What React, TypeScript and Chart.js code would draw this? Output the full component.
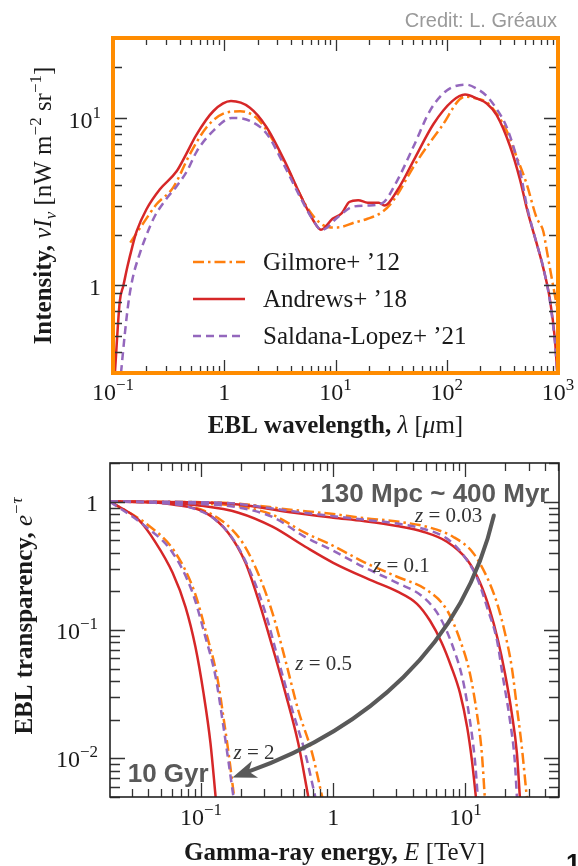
import { useEffect, useRef } from "react";
import { Chart, registerables } from "chart.js";
Chart.register(...registerables);

const SERIF = '"Liberation Serif", "Times New Roman", serif';
const SANS = '"Liberation Sans", Arial, sans-serif';

const ORANGE = "#ff7f0e";
const RED = "#d62728";
const PURPLE = "#9467bd";
const FRAME_ORANGE = "#ff8c00";
const TICK = "#333333";
const ANNOT = "#595959";

// ---------------- Top panel: EBL intensity vs wavelength ----------------
const wavelengthRange = [0.1, 1000];
const intensityRange = [0.3, 30];
const legendLabels = ["Gilmore+ \u201912", "Andrews+ \u201918", "Saldana-Lopez+ \u201921"];

const gilmoreEBL: [number, number][] = [
  [0.143, 1.8], [0.187, 2.35], [0.246, 3.05], [0.348, 3.85], [0.493, 6.1], [0.694, 8.8],
  [0.98, 10.6], [1.39, 10.95], [1.95, 10.0], [2.76, 7.3], [3.9, 4.65], [5.5, 2.95],
  [7.3, 2.35], [9, 2.22], [10.5, 2.22], [15, 2.38], [19.4, 2.5], [26.4, 2.75], [33, 3.2],
  [52, 5.3], [89, 8.8], [146, 13.4], [190, 13.0], [229, 12.4], [281, 10.6], [345, 8.4],
  [425, 5.85], [522, 4.05], [640, 2.55], [738, 2.1], [791, 1.63], [908, 0.98], [1000, 0.7],
];
const andrewsEBL: [number, number][] = [
  [0.104, 0.3], [0.115, 0.8], [0.124, 1.0], [0.135, 1.3], [0.149, 1.7], [0.163, 2.1],
  [0.2, 2.85], [0.264, 3.75], [0.373, 4.8], [0.45, 6.0],
  [0.56, 7.9], [0.8, 11.0], [1.15, 12.6], [1.7, 11.5], [2.4, 8.8], [3.5, 5.5], [4.8, 3.5],
  [6.3, 2.45], [7.4, 2.15], [9.4, 2.5], [11.4, 2.7], [13.3, 3.15], [16, 3.23], [19.5, 3.12],
  [24.5, 3.12], [27.5, 3.0], [36, 3.7], [52, 5.8], [76, 9.2], [112, 12.6], [146, 13.8],
  [190, 13.0], [229, 12.2], [281, 10.4], [370, 6.8], [455, 4.3], [530, 2.8], [640, 1.8],
  [733, 1.29], [847, 0.82], [940, 0.47], [985, 0.3],
];
const saldanaEBL: [number, number][] = [
  [0.118, 0.3], [0.128, 0.52], [0.138, 0.8], [0.15, 1.1], [0.174, 1.55], [0.2, 2.0],
  [0.236, 2.57], [0.303, 3.3], [0.372, 3.9], [0.467, 4.87], [0.565, 6.3], [0.8, 8.4],
  [1.17, 10.0], [1.7, 9.6], [2.41, 8.05], [3.4, 5.33], [4.8, 3.38], [6.3, 2.45], [7.5, 2.14],
  [10.6, 2.57], [14.3, 2.95], [19.4, 3.0], [26.4, 3.1], [35, 4.1], [50, 6.7], [71, 11.1],
  [100, 14.6], [150, 15.8], [191, 14.8], [229, 13.5], [281, 11.3], [346, 8.8], [450, 5.0],
  [530, 2.9], [640, 1.8], [733, 1.3], [847, 0.8], [940, 0.45], [985, 0.3],
];

// ---------------- Bottom panel: transparency vs energy ----------------
const energyRange = [0.0205, 51];
const transparencyRange = [0.005, 2.0];

const gilmoreZ003: [number, number][] = [
  [0.0205, 1.0], [0.1, 0.99], [0.192, 0.965], [0.457, 0.87], [1, 0.8], [1.69, 0.745],
  [3.04, 0.7], [5.4, 0.627], [8.05, 0.533], [11.4, 0.4], [14.5, 0.26], [17.3, 0.163],
  [19.9, 0.0948], [22.4, 0.0514], [24.5, 0.025], [26.7, 0.0122], [29.1, 0.005],
];
const andrewsZ003: [number, number][] = [
  [0.0205, 1.0], [0.1, 0.985], [0.192, 0.95], [0.457, 0.83], [1, 0.75], [1.69, 0.705],
  [3.04, 0.645], [4.78, 0.583], [7.25, 0.487], [10.3, 0.352], [12.9, 0.233], [15.3, 0.143],
  [17.6, 0.0835], [19.9, 0.046], [22.4, 0.0225], [24.5, 0.011], [25.8, 0.005],
];
const saldanaZ003: [number, number][] = [
  [0.0205, 1.0], [0.1, 0.99], [0.192, 0.96], [0.457, 0.85], [1, 0.77], [1.69, 0.725],
  [3.04, 0.675], [4.78, 0.615], [7.25, 0.515], [9.6, 0.385], [12.4, 0.246], [14.8, 0.143],
  [17.3, 0.0835], [19.2, 0.043], [21.7, 0.0198], [23.6, 0.0096], [24.5, 0.005],
];

const gilmoreZ01: [number, number][] = [
  [0.0205, 1.0], [0.05, 0.99], [0.1, 0.965], [0.192, 0.92], [0.347, 0.79], [0.615, 0.57],
  [1, 0.453], [1.69, 0.34], [3.04, 0.26], [5.1, 0.205], [7.25, 0.143], [9.1, 0.0835],
  [10.8, 0.046], [12.2, 0.0225], [13.3, 0.011], [14.0, 0.005],
];
const andrewsZ01: [number, number][] = [
  [0.0205, 1.0], [0.05, 0.985], [0.1, 0.93], [0.192, 0.82], [0.347, 0.638], [0.615, 0.445],
  [1, 0.334], [1.9, 0.246], [3.04, 0.2], [4.3, 0.16], [5.4, 0.118], [6.6, 0.08], [7.8, 0.052],
  [9.1, 0.0322], [10.3, 0.0175], [11.2, 0.0096], [12.0, 0.005],
];
const saldanaZ01: [number, number][] = [
  [0.0205, 1.0], [0.05, 0.99], [0.1, 0.96], [0.192, 0.9], [0.347, 0.76], [0.615, 0.53],
  [1, 0.414], [1.69, 0.31], [3.04, 0.233], [4.78, 0.181], [6.4, 0.126], [8.05, 0.0737],
  [9.6, 0.04], [10.8, 0.0198], [11.8, 0.0096], [12.4, 0.005],
];

const gilmoreZ05: [number, number][] = [
  [0.0205, 1.0], [0.045, 0.985], [0.083, 0.92], [0.141, 0.72], [0.206, 0.48], [0.277, 0.26],
  [0.347, 0.136], [0.435, 0.058], [0.544, 0.0237], [0.694, 0.0109], [0.826, 0.005],
];
const andrewsZ05: [number, number][] = [
  [0.0205, 1.0], [0.04, 0.99], [0.061, 0.95], [0.108, 0.82], [0.161, 0.57], [0.217, 0.334],
  [0.272, 0.171], [0.347, 0.0737], [0.435, 0.0322], [0.544, 0.0131], [0.648, 0.005],
];
const saldanaZ05: [number, number][] = [
  [0.0205, 1.0], [0.045, 0.98], [0.0805, 0.91], [0.129, 0.72], [0.182, 0.48], [0.245, 0.26],
  [0.307, 0.136], [0.385, 0.058], [0.491, 0.0237], [0.615, 0.0109], [0.732, 0.005],
];

const gilmoreZ2: [number, number][] = [
  [0.0205, 1.0], [0.0395, 0.66], [0.063, 0.41], [0.089, 0.2], [0.111, 0.09], [0.132, 0.044],
  [0.151, 0.018], [0.164, 0.0098], [0.178, 0.005],
];
const andrewsZ2: [number, number][] = [
  [0.0205, 1.0], [0.0338, 0.72], [0.0454, 0.48], [0.061, 0.279], [0.0764, 0.151],
  [0.0908, 0.0737], [0.1045, 0.0322], [0.118, 0.0131], [0.129, 0.005],
];
const saldanaZ2: [number, number][] = [
  [0.0205, 1.0], [0.0381, 0.64], [0.061, 0.4], [0.0863, 0.195], [0.108, 0.088], [0.129, 0.043],
  [0.148, 0.0175], [0.161, 0.0096], [0.176, 0.005],
];

// annotation anchors (data coordinates: energy [TeV], transparency)
const redshiftLabels = ["0.03", "0.1", "0.5", "2"];
const redshiftLabelAnchors: [number, number][] = [[4.16, 0.7], [2.0, 0.284], [0.517, 0.0487], [0.176, 0.0098]];
const distanceText = "130 Mpc ~ 400 Myr";
const distanceAnchor: [number, number] = [0.8, 1.0];
const ageText = "10 Gyr";
const ageAnchor: [number, number] = [0.0279, 0.0065];
const arrowPath: [number, number][] = [[16.4, 0.78], [9.6, 0.073], [1.74, 0.0168], [0.173, 0.0071]];

// ---------------- helpers ----------------
type Seg = { t: string; f: string; dy?: number };

function richWidth(ctx: CanvasRenderingContext2D, segs: Seg[]) {
  let w = 0;
  for (const s of segs) {
    ctx.font = s.f;
    w += ctx.measureText(s.t).width;
  }
  return w;
}

function drawRich(ctx: CanvasRenderingContext2D, segs: Seg[], x: number, y: number, align: "left" | "center" | "right") {
  const w = richWidth(ctx, segs);
  let cx = align === "center" ? x - w / 2 : align === "right" ? x - w : x;
  ctx.textAlign = "left";
  ctx.textBaseline = "alphabetic";
  for (const s of segs) {
    ctx.font = s.f;
    ctx.fillText(s.t, cx, y + (s.dy || 0));
    cx += ctx.measureText(s.t).width;
  }
}

const F = (style: string, size: number, fam = SERIF) => `${style} ${size}px ${fam}`.trim();

function powLabel(exp: number, size: number): Seg[] {
  if (exp === 0) return [{ t: "1", f: F("", size) }];
  const e = exp < 0 ? "\u2212" + String(-exp) : String(exp);
  return [
    { t: "10", f: F("", size) },
    { t: e, f: F("", Math.round(size * 0.72)), dy: -Math.round(size * 0.4) },
  ];
}

function logTicks(min: number, max: number) {
  const out: { v: number; major: boolean; exp: number }[] = [];
  for (let e = Math.floor(Math.log10(min)); e <= Math.ceil(Math.log10(max)); e++) {
    for (let m = 1; m <= 9; m++) {
      const v = m * Math.pow(10, e);
      if (v >= min * 0.9999 && v <= max * 1.0001) out.push({ v, major: m === 1, exp: e });
    }
  }
  return out;
}

type FrameCfg = {
  xMajor: number; xMinor: number; yMajor: number; yMinor: number;
  border: string; borderWidth: number; labelSize: number;
  xLabelBase: number; yLabelRight: number; yLabelDy: number;
};

function drawFrame(chart: any, cfg: FrameCfg) {
  const { ctx, chartArea: a, scales } = chart;
  const xs = scales.x, ys = scales.y;
  ctx.save();
  ctx.strokeStyle = TICK;
  ctx.lineWidth = 1.3;
  ctx.beginPath();
  for (const t of logTicks(xs.min, xs.max)) {
    const px = Math.round(xs.getPixelForValue(t.v)) + 0.5;
    const len = t.major ? cfg.xMajor : cfg.xMinor;
    ctx.moveTo(px, a.bottom); ctx.lineTo(px, a.bottom - len);
    ctx.moveTo(px, a.top); ctx.lineTo(px, a.top + len);
  }
  for (const t of logTicks(ys.min, ys.max)) {
    const py = Math.round(ys.getPixelForValue(t.v)) + 0.5;
    const len = t.major ? cfg.yMajor : cfg.yMinor;
    ctx.moveTo(a.left, py); ctx.lineTo(a.left + len, py);
    ctx.moveTo(a.right, py); ctx.lineTo(a.right - len, py);
  }
  ctx.stroke();
  ctx.strokeStyle = cfg.border;
  ctx.lineWidth = cfg.borderWidth;
  ctx.strokeRect(a.left, a.top, a.right - a.left, a.bottom - a.top);
  // tick labels
  ctx.fillStyle = "#1a1a1a";
  for (const t of logTicks(xs.min, xs.max)) {
    if (!t.major) continue;
    const px = xs.getPixelForValue(t.v);
    drawRich(ctx, powLabel(t.exp, cfg.labelSize), px, a.bottom + cfg.xLabelBase, "center");
  }
  for (const t of logTicks(ys.min, ys.max)) {
    if (!t.major) continue;
    const py = ys.getPixelForValue(t.v);
    drawRich(ctx, powLabel(t.exp, cfg.labelSize), a.left - cfg.yLabelRight, py + cfg.yLabelDy, "right");
  }
  ctx.restore();
}

const toXY = (pts: [number, number][]) => pts.map(([x, y]) => ({ x, y }));
const DASHED = [8, 5];
const DASHDOT = [11, 4, 2.5, 4];

function series(label: string, pts: [number, number][], color: string, dash: number[], order: number) {
  return {
    label,
    data: toXY(pts),
    borderColor: color,
    backgroundColor: color,
    borderWidth: 2.5,
    borderDash: dash,
    pointRadius: 0,
    fill: false,
    cubicInterpolationMode: "monotone",
    order,
  };
}

function logScale(range: number[]) {
  return { type: "logarithmic", min: range[0], max: range[1], display: false };
}

const TITLE = 25;

// ---------------- plugins ----------------
const topDecor = {
  id: "topDecor",
  afterDatasetsDraw(chart: any) {
    const { ctx, chartArea: a } = chart;
    drawFrame(chart, {
      xMajor: 13, xMinor: 7, yMajor: 14, yMinor: 9,
      border: FRAME_ORANGE, borderWidth: 4, labelSize: 24,
      xLabelBase: 27, yLabelRight: 12, yLabelDy: 10,
    });
    ctx.save();
    ctx.fillStyle = "#1a1a1a";
    // x title
    drawRich(ctx, [
      { t: "EBL wavelength, ", f: F("bold", TITLE) },
      { t: "\u03bb", f: F("italic", TITLE) },
      { t: " [", f: F("", TITLE) },
      { t: "\u03bc", f: F("italic", TITLE) },
      { t: "m]", f: F("", TITLE) },
    ], (a.left + a.right) / 2, 433, "center");
    // y title
    ctx.translate(51, (a.top + a.bottom) / 2);
    ctx.rotate(-Math.PI / 2);
    drawRich(ctx, [
      { t: "Intensity, ", f: F("bold", TITLE) },
      { t: "\u03bdI", f: F("italic", TITLE) },
      { t: "\u03bd", f: F("italic", 17), dy: 5 },
      { t: " [nW m", f: F("", TITLE) },
      { t: "\u22122", f: F("", 17), dy: -10 },
      { t: " sr", f: F("", TITLE) },
      { t: "\u22121", f: F("", 17), dy: -10 },
      { t: "]", f: F("", TITLE) },
    ], 0, 0, "center");
    ctx.restore();
    // legend
    ctx.save();
    const rows = [
      { c: ORANGE, d: DASHDOT },
      { c: RED, d: [] as number[] },
      { c: PURPLE, d: DASHED },
    ];
    rows.forEach((r, i) => {
      const y = 262 + i * 37;
      ctx.strokeStyle = r.c;
      ctx.lineWidth = 2.5;
      ctx.setLineDash(r.d);
      ctx.beginPath();
      ctx.moveTo(193, y);
      ctx.lineTo(245, y);
      ctx.stroke();
      ctx.setLineDash([]);
      ctx.fillStyle = "#1a1a1a";
      ctx.font = F("", 25);
      ctx.textAlign = "left";
      ctx.textBaseline = "middle";
      ctx.fillText(legendLabels[i], 263, y + 1);
    });
    // credit
    ctx.fillStyle = "#9a9a9a";
    ctx.font = F("", 20, SANS);
    ctx.textAlign = "right";
    ctx.textBaseline = "alphabetic";
    ctx.fillText("Credit: L. Gr\u00e9aux", 557, 27);
    ctx.restore();
  },
};

const bottomDecor = {
  id: "bottomDecor",
  afterDatasetsDraw(chart: any) {
    const { ctx, chartArea: a, scales } = chart;
    const xs = scales.x, ys = scales.y;
    const P = (p: [number, number]) => [xs.getPixelForValue(p[0]), ys.getPixelForValue(p[1])];
    drawFrame(chart, {
      xMajor: 14, xMinor: 8, yMajor: 15, yMinor: 10,
      border: "#222222", borderWidth: 1.6, labelSize: 24,
      xLabelBase: 28, yLabelRight: 12, yLabelDy: 9,
    });
    ctx.save();
    ctx.fillStyle = "#1a1a1a";
    drawRich(ctx, [
      { t: "Gamma-ray energy, ", f: F("bold", TITLE) },
      { t: "E", f: F("italic", TITLE) },
      { t: " [TeV]", f: F("", TITLE) },
    ], (a.left + a.right) / 2, 420, "center");
    ctx.save();
    ctx.translate(32, (a.top + a.bottom) / 2 - 14);
    ctx.rotate(-Math.PI / 2);
    drawRich(ctx, [
      { t: "EBL transparency, ", f: F("bold", TITLE) },
      { t: "e", f: F("italic", TITLE) },
      { t: "\u2212\u03c4", f: F("italic", 17), dy: -10 },
    ], 0, 0, "center");
    ctx.restore();
    // redshift labels
    ctx.fillStyle = "#333333";
    redshiftLabels.forEach((z, i) => {
      const [x, y] = P(redshiftLabelAnchors[i]);
      drawRich(ctx, [
        { t: "z", f: F("italic", 21) },
        { t: " = " + z, f: F("", 21) },
      ], x, y, "left");
    });
    // arrow
    const pts = arrowPath.map(P);
    ctx.strokeStyle = ANNOT;
    ctx.fillStyle = ANNOT;
    ctx.lineWidth = 4;
    ctx.lineCap = "round";
    const [p0, p1, p2, p3] = pts;
    const ang = Math.atan2(p3[1] - p2[1], p3[0] - p2[0]);
    const headLen = 24, headW = 9;
    const bx = p3[0] - Math.cos(ang) * headLen * 0.7;
    const by = p3[1] - Math.sin(ang) * headLen * 0.7;
    ctx.beginPath();
    ctx.moveTo(p0[0], p0[1]);
    ctx.bezierCurveTo(p1[0], p1[1], p2[0], p2[1], bx, by);
    ctx.stroke();
    ctx.beginPath();
    ctx.moveTo(p3[0], p3[1]);
    ctx.lineTo(p3[0] - Math.cos(ang) * headLen - Math.sin(ang) * headW, p3[1] - Math.sin(ang) * headLen + Math.cos(ang) * headW);
    ctx.lineTo(p3[0] - Math.cos(ang) * headLen * 0.72, p3[1] - Math.sin(ang) * headLen * 0.72);
    ctx.lineTo(p3[0] - Math.cos(ang) * headLen + Math.sin(ang) * headW, p3[1] - Math.sin(ang) * headLen - Math.cos(ang) * headW);
    ctx.closePath();
    ctx.fill();
    // big annotations
    ctx.font = F("bold", 26, SANS);
    ctx.textAlign = "left";
    ctx.textBaseline = "alphabetic";
    const [dx, dy] = P(distanceAnchor);
    ctx.fillText(distanceText, dx, dy);
    const [gx, gy] = P(ageAnchor);
    ctx.fillText(ageText, gx, gy);
    // page number fragment
    ctx.fillStyle = "#111111";
    ctx.font = F("bold", 26, SANS);
    ctx.fillText("1", 566, 432);
    ctx.restore();
  },
};

export default function App() {
  const topRef = useRef<HTMLCanvasElement>(null);
  const botRef = useRef<HTMLCanvasElement>(null);

  useEffect(() => {
    const common = {
      responsive: false,
      animation: false,
      devicePixelRatio: 1,
      plugins: { legend: { display: false }, tooltip: { enabled: false } },
    };
    const top = new Chart(topRef.current as HTMLCanvasElement, {
      type: "line",
      data: {
        datasets: [
          series(legendLabels[0], gilmoreEBL, ORANGE, DASHDOT, 2),
          series(legendLabels[1], andrewsEBL, RED, [], 1),
          series(legendLabels[2], saldanaEBL, PURPLE, DASHED, 0),
        ] as any,
      },
      options: {
        ...common,
        layout: { autoPadding: false, padding: { left: 113, top: 38, right: 20, bottom: 67 } },
        scales: { x: logScale(wavelengthRange), y: logScale(intensityRange) } as any,
      } as any,
      plugins: [topDecor],
    });
    const bot = new Chart(botRef.current as HTMLCanvasElement, {
      type: "line",
      data: {
        datasets: [
          series("Gilmore z=0.03", gilmoreZ003, ORANGE, DASHDOT, 2),
          series("Andrews z=0.03", andrewsZ003, RED, [], 1),
          series("Saldana z=0.03", saldanaZ003, PURPLE, DASHED, 0),
          series("Gilmore z=0.1", gilmoreZ01, ORANGE, DASHDOT, 2),
          series("Andrews z=0.1", andrewsZ01, RED, [], 1),
          series("Saldana z=0.1", saldanaZ01, PURPLE, DASHED, 0),
          series("Gilmore z=0.5", gilmoreZ05, ORANGE, DASHDOT, 2),
          series("Andrews z=0.5", andrewsZ05, RED, [], 1),
          series("Saldana z=0.5", saldanaZ05, PURPLE, DASHED, 0),
          series("Gilmore z=2", gilmoreZ2, ORANGE, DASHDOT, 2),
          series("Andrews z=2", andrewsZ2, RED, [], 1),
          series("Saldana z=2", saldanaZ2, PURPLE, DASHED, 0),
        ] as any,
      },
      options: {
        ...common,
        layout: { autoPadding: false, padding: { left: 110, top: 23, right: 19, bottom: 69 } },
        scales: { x: logScale(energyRange), y: logScale(transparencyRange) } as any,
      } as any,
      plugins: [bottomDecor],
    });
    return () => {
      top.destroy();
      bot.destroy();
    };
  }, []);

  return (
    <div style={{ position: "absolute", left: 0, top: 0, width: 578, height: 866, background: "#fff" }}>
      <canvas ref={topRef} width={578} height={440} style={{ position: "absolute", left: 0, top: 0, width: 578, height: 440 }} />
      <canvas ref={botRef} width={578} height={426} style={{ position: "absolute", left: 0, top: 440, width: 578, height: 426 }} />
    </div>
  );
}
